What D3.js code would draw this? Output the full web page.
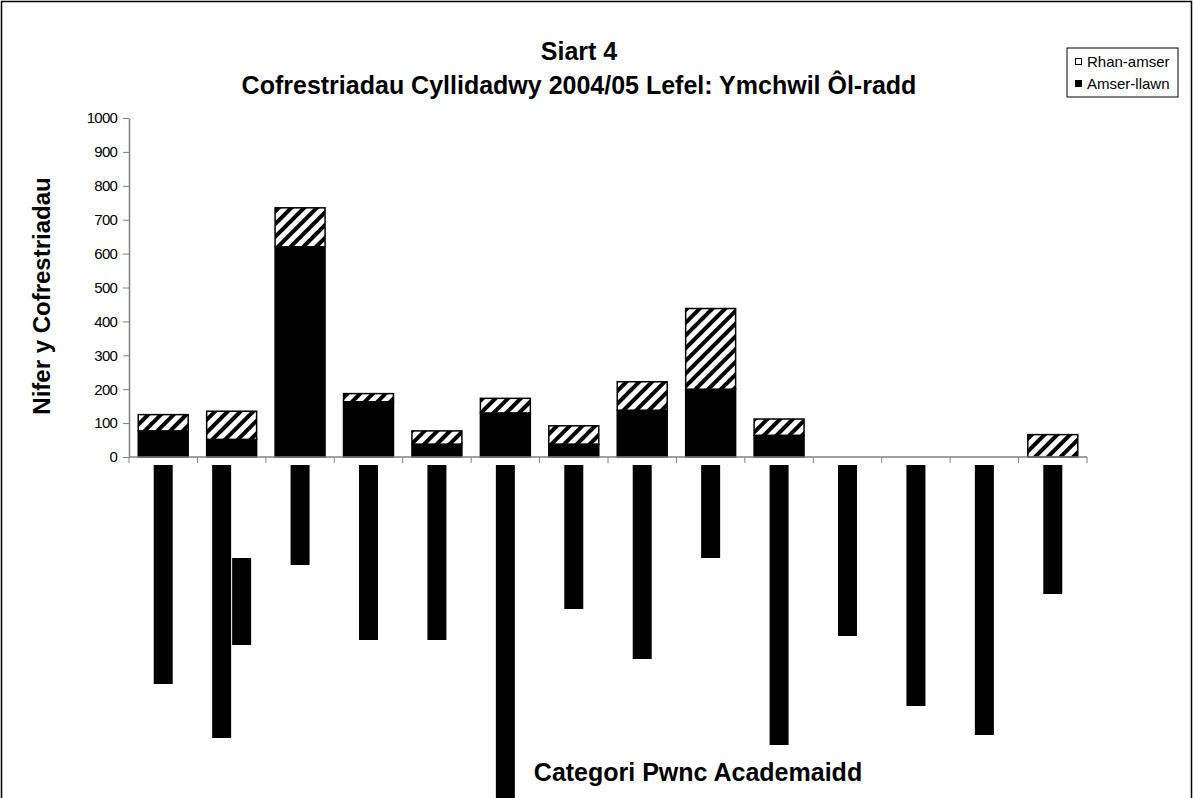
<!DOCTYPE html>
<meta charset="utf-8">
<head>
    <title>Siart 4</title>
    <style>
        body { margin: 0; background: #fff; }
        text { font-family: "Liberation Sans", Arial, sans-serif; fill: #000; }
    </style>
</head>
<body>
    <script src="https://cdn.jsdelivr.net/npm/d3@7"></script>
    <div id="chart"></div>
    <script>

        // categories (their names are blacked out in the source picture)
        var categories = [1, 2, 3, 4, 5, 6, 7, 8, 9, 10, 11, 12, 13, 14];
        var fullTime = [77, 52, 620, 163, 38, 130, 38, 138, 200, 64, 0, 0, 0, 0];   // Amser-llawn
        var partTime = [48, 83, 115, 24, 39, 43, 54, 84, 238, 48, 0, 0, 0, 66];     // Rhan-amser
        var yTicks = [0, 100, 200, 300, 400, 500, 600, 700, 800, 900, 1000];
        // lengths (px) of the blacked-out rotated category labels, one entry per text line
        var labelLines = [[219], [273, 87], [100], [175], [175], [345], [144],
                          [194], [93], [280], [171], [241], [270], [129]];

        var width = 1193;
        var height = 798;
        var margin = { left: 129, right: 106, top: 118, bottom: 341 };

        var svg = d3.select('#chart')
          .append('svg')
          .attr('width', width)
          .attr('height', height);

        // hatch for part-time
        svg.append('defs').append('pattern')
          .attr('id', 'hatch')
          .attr('patternUnits', 'userSpaceOnUse')
          .attr('width', 9)
          .attr('height', 9)
          .attr('patternTransform', 'rotate(45)')
          .call(function(p) {
            p.append('rect').attr('width', 9).attr('height', 9).attr('fill', '#fff');
            p.append('rect').attr('width', 4).attr('height', 9).attr('fill', '#000');
          });

        // outer frame
        svg.append('rect')
          .attr('x', 1.5).attr('y', 1.5)
          .attr('width', width - 3).attr('height', height + 20)
          .attr('fill', 'none').attr('stroke', '#000').attr('stroke-width', 1.5);

        var x = d3.scaleBand()
          .domain(categories)
          .range([margin.left, width - margin.right])
          .paddingInner(0.27)
          .paddingOuter(0.135);

        var y = d3.scaleLinear()
          .domain([0, 1000])
          .range([height - margin.bottom, margin.top]);

        var data = categories.map(function(c, i) {
          return { cat: c, full: fullTime[i], part: partTime[i], lines: labelLines[i] };
        });

        // bars
        var g = svg.append('g');
        g.selectAll('.full')
          .data(data.filter(function(d) { return d.full > 0; }))
          .enter().append('rect')
          .attr('class', 'full')
          .attr('x', function(d) { return x(d.cat); })
          .attr('width', x.bandwidth())
          .attr('y', function(d) { return y(d.full); })
          .attr('height', function(d) { return y(0) - y(d.full); })
          .attr('fill', '#000')
          .attr('stroke', '#000')
          .attr('stroke-width', 1.5);

        g.selectAll('.part')
          .data(data.filter(function(d) { return d.part > 0; }))
          .enter().append('rect')
          .attr('class', 'part')
          .attr('x', function(d) { return x(d.cat); })
          .attr('width', x.bandwidth())
          .attr('y', function(d) { return y(d.full + d.part); })
          .attr('height', function(d) { return y(d.full) - y(d.full + d.part); })
          .attr('fill', 'url(#hatch)')
          .attr('stroke', '#000')
          .attr('stroke-width', 1.5);

        // y axis
        var yAxis = svg.append('g')
          .attr('transform', 'translate(' + margin.left + ',0)')
          .call(d3.axisLeft(y).tickValues(yTicks).tickFormat(d3.format('d'))
            .tickSize(6).tickPadding(6).tickSizeOuter(0));
        yAxis.select('.domain').attr('stroke', '#808080').attr('stroke-width', 1.5);
        yAxis.selectAll('.tick line').attr('stroke', '#808080');
        yAxis.selectAll('.tick text')
          .style('font-family', '"Liberation Sans", Arial, sans-serif')
          .style('font-size', '15px')
          .style('letter-spacing', '-0.8px')
          .attr('fill', '#000');

        // x axis: line with ticks at category boundaries
        var step = x.step();
        var x0 = margin.left;
        var nCat = categories.length;
        svg.append('line')
          .attr('x1', x0).attr('x2', x0 + step * nCat)
          .attr('y1', y(0)).attr('y2', y(0))
          .attr('stroke', '#808080').attr('stroke-width', 1.5);
        svg.selectAll('.xtick')
          .data(d3.range(nCat + 1))
          .enter().append('line')
          .attr('class', 'xtick')
          .attr('x1', function(i) { return x0 + i * step; })
          .attr('x2', function(i) { return x0 + i * step; })
          .attr('y1', y(0)).attr('y2', y(0) + 6)
          .attr('stroke', '#808080');

        // blacked-out category labels (rotated, top-aligned, lines centred)
        var lineGap = 20;
        data.forEach(function(d) {
          var cx = x(d.cat) + x.bandwidth() / 2;
          var maxLen = d3.max(d.lines);
          var n = d.lines.length;
          d.lines.forEach(function(len, j) {
            var lx = cx + (j - (n - 1) / 2) * lineGap;
            svg.append('rect')
              .attr('class', 'cat-label')
              .attr('x', lx - 9.5)
              .attr('y', y(0) + 8 + (maxLen - len) / 2)
              .attr('width', 19)
              .attr('height', len)
              .attr('fill', '#000');
          });
        });

        // titles
        svg.append('text')
          .attr('x', 579).attr('y', 60)
          .attr('text-anchor', 'middle')
          .style('font-size', '25px').style('font-weight', 'bold')
          .text('Siart 4');
        svg.append('text')
          .attr('x', 579).attr('y', 94)
          .attr('text-anchor', 'middle')
          .style('font-size', '25px').style('font-weight', 'bold')
          .text('Cofrestriadau Cyllidadwy 2004/05 Lefel: Ymchwil Ôl-radd');

        svg.append('text')
          .attr('transform', 'translate(50,296) rotate(-90)')
          .attr('text-anchor', 'middle')
          .style('font-size', '24px').style('font-weight', 'bold')
          .text('Nifer y Cofrestriadau');

        svg.append('text')
          .attr('x', 698).attr('y', 781)
          .attr('text-anchor', 'middle')
          .style('font-size', '25px').style('font-weight', 'bold')
          .text('Categori Pwnc Academaidd');

        // legend
        var legend = svg.append('g').attr('transform', 'translate(1067,48)');
        legend.append('rect')
          .attr('width', 111).attr('height', 49)
          .attr('fill', '#fff').attr('stroke', '#000');
        var items = [
          { label: 'Rhan-amser', fill: '#fff' },
          { label: 'Amser-llawn', fill: '#000' }
        ];
        items.forEach(function(it, i) {
          legend.append('rect')
            .attr('x', 8.5).attr('y', 10.5 + i * 22)
            .attr('width', 6).attr('height', 6)
            .attr('fill', it.fill).attr('stroke', '#000');
          legend.append('text')
            .attr('x', 20).attr('y', 19 + i * 22)
            .style('font-size', '15px')
            .text(it.label);
        });
  </script>
</body>
